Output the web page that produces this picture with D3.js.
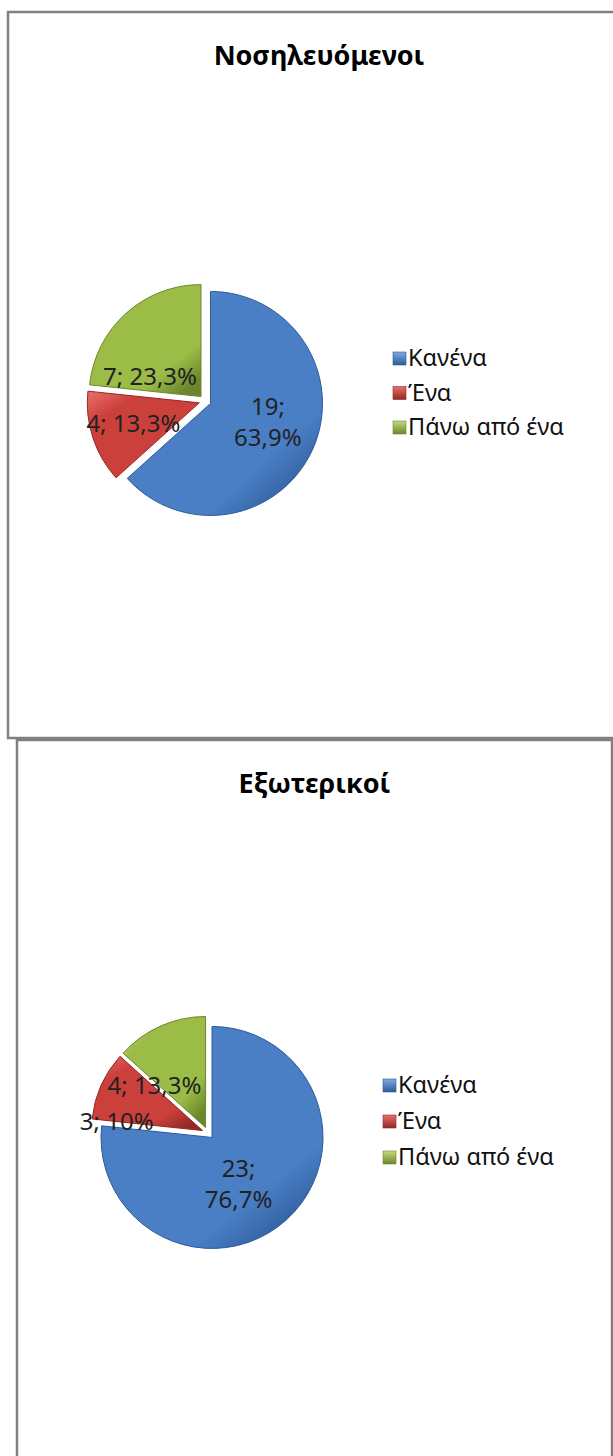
<!DOCTYPE html>
<html>
<head>
<meta charset="utf-8">
<script src="https://cdn.jsdelivr.net/npm/d3@7"></script>
<style>
  body { margin: 0; background: #fff; }
  svg { display: block; }
</style>
</head>
<body>
<div id="chart"></div>
<script>
"use strict";

// data
const categories = ["Κανένα", "Ένα", "Πάνω από ένα"];
const titles = ["Νοσηλευόμενοι", "Εξωτερικοί"];
const inpatientValues = [19, 4, 7];
const inpatientPercents = ["63,9%", "13,3%", "23,3%"];
const outpatientValues = [23, 3, 4];
const outpatientPercents = ["76,7%", "10%", "13,3%"];

const width = 613;
const height = 1456;

// layout of each panel (positions relative to the panel box)
const panels = [
  {
    title: titles[0],
    values: inpatientValues,
    percents: inpatientPercents,
    box: { x: 8, y: 12, w: 622, h: 726 },
    center: [197, 389],
    radius: 112,
    legend: { x: 385, y: 346, step: 34.5 },
    nudge: [[-4, -9], [-2, 0], [-6, 30]],
  },
  {
    title: titles[1],
    values: outpatientValues,
    percents: outpatientPercents,
    box: { x: 17, y: 740, w: 595, h: 740 },
    center: [191, 393],
    radius: 111,
    legend: { x: 366, y: 345, step: 36 },
    nudge: [[-18, -3], [-25, 19], [-24, 19]],
  },
];

const palette = [
  { base: "#4a7fc6", light: "#7faae4", dark: "#2d5a98" },
  { base: "#cc403c", light: "#e9716c", dark: "#922825" },
  { base: "#9bbd47", light: "#c4dc7c", dark: "#6b862d" },
];
const explode = 6;

const svg = d3
  .select("#chart")
  .append("svg")
  .attr("width", width)
  .attr("height", height);

///////////////////////////////////
// gradients for the bevelled look
///////////////////////////////////

const defs = svg.append("defs");
palette.forEach((c, i) => {
  const sg = defs
    .append("linearGradient")
    .attr("id", "slice" + i)
    .attr("x1", 0)
    .attr("y1", 0)
    .attr("x2", 0.8)
    .attr("y2", 1);
  sg.append("stop").attr("offset", "0%").attr("stop-color", c.light);
  sg.append("stop").attr("offset", "25%").attr("stop-color", c.base);
  sg.append("stop").attr("offset", "80%").attr("stop-color", c.base);
  sg.append("stop").attr("offset", "100%").attr("stop-color", c.dark);

  const lg = defs
    .append("linearGradient")
    .attr("id", "key" + i)
    .attr("x1", 0)
    .attr("y1", 0)
    .attr("x2", 0)
    .attr("y2", 1);
  lg.append("stop").attr("offset", "0%").attr("stop-color", c.light);
  lg.append("stop").attr("offset", "100%").attr("stop-color", c.dark);
});

const color = d3
  .scaleOrdinal()
  .domain(categories)
  .range(palette.map((c, i) => `url(#slice${i})`));

///////////////////////////////////
// one panel per pie
///////////////////////////////////

panels.forEach((p) => {
  const g = svg
    .append("g")
    .attr("transform", `translate(${p.box.x},${p.box.y})`);

  g.append("rect")
    .attr("width", p.box.w)
    .attr("height", p.box.h)
    .attr("fill", "#fff")
    .attr("stroke", "#808080")
    .attr("stroke-width", 2.5);

  g.append("text")
    .attr("x", p.box.w / 2)
    .attr("y", 53)
    .attr("text-anchor", "middle")
    .style("font-family", "'Noto Sans', sans-serif")
    .style("font-weight", "bold")
    .style("font-size", "27px")
    .attr("fill", "#000")
    .text(p.title);

  const rows = categories.map((c, i) => ({
    cat: c,
    value: p.values[i],
    pct: p.percents[i],
    i: i,
  }));

  const pie = d3
    .pie()
    .sort(null)
    .value((d) => d.value);
  const arc = d3.arc().innerRadius(0).outerRadius(p.radius);
  const arcs = pie(rows);

  const pieG = g
    .append("g")
    .attr("transform", `translate(${p.center[0]},${p.center[1]})`);

  const mid = (d) => (d.startAngle + d.endAngle) / 2;

  pieG
    .selectAll("path")
    .data(arcs)
    .enter()
    .append("path")
    .attr("d", arc)
    .attr("transform", (d) => {
      const a = mid(d);
      return `translate(${explode * Math.sin(a)},${-explode * Math.cos(a)})`;
    })
    .attr("fill", (d) => color(d.data.cat))
    .attr("stroke", (d) => palette[d.data.i].dark)
    .attr("stroke-width", 1);

  // data labels "value; percent"
  const labels = pieG
    .selectAll("text")
    .data(arcs)
    .enter()
    .append("text")
    .attr("text-anchor", "middle")
    .style("font-family", "'Noto Sans', sans-serif")
    .style("font-size", "24px")
    .attr("fill", "#222")
    .attr("transform", (d) => {
      const a = mid(d);
      const r = p.radius * 0.6 + explode;
      const n = p.nudge[d.data.i];
      return `translate(${r * Math.sin(a) + n[0]},${-r * Math.cos(a) + n[1]})`;
    });

  labels.each(function (d) {
    const t = d3.select(this);
    if (d.data.i === 0) {
      t.append("tspan").attr("x", 0).attr("dy", -7).text(d.data.value + ";");
      t.append("tspan").attr("x", 0).attr("dy", 31).text(d.data.pct);
    } else {
      t.append("tspan").attr("x", 0).attr("dy", 8).text(d.data.value + "; " + d.data.pct);
    }
  });

  ///////////////////////////////////
  // legend
  ///////////////////////////////////

  const leg = g
    .append("g")
    .attr("transform", `translate(${p.legend.x},${p.legend.y})`);
  const item = leg
    .selectAll("g")
    .data(categories)
    .enter()
    .append("g")
    .attr("transform", (d, i) => `translate(0,${i * p.legend.step})`);
  item
    .append("rect")
    .attr("x", 0)
    .attr("y", -6)
    .attr("width", 13)
    .attr("height", 13)
    .attr("fill", (d, i) => `url(#key${i})`)
    .attr("stroke", (d, i) => palette[i].dark)
    .attr("stroke-width", 0.6);
  item
    .append("text")
    .attr("x", 15)
    .attr("y", 8)
    .style("font-family", "'Noto Sans', sans-serif")
    .style("font-size", "23.5px")
    .attr("fill", "#111")
    .text((d) => d);
});
</script>
</body>
</html>
